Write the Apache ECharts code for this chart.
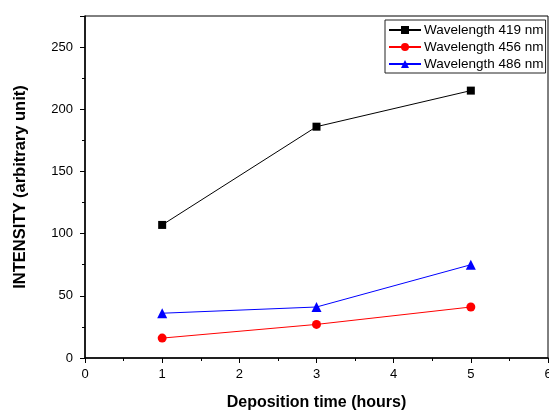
<!DOCTYPE html>
<html>
<head>
<meta charset="utf-8">
<script src="https://cdn.jsdelivr.net/npm/echarts@6/dist/echarts.min.js"></script>
<style>
  html, body { margin: 0; padding: 0; background: #fff; }
  #chart { width: 549px; height: 410px; }
</style>
</head>
<body>
<div id="chart"></div>
<script>
// Deposition time (hours) and measured intensities per wavelength
const depositionHours = [1, 3, 5];
const intensity419 = [107, 186, 215];
const intensity456 = [16, 27, 41];
const intensity486 = [36, 41, 75];
const seriesNames = ['Wavelength 419 nm', 'Wavelength 456 nm', 'Wavelength 486 nm'];

const pairs = (ys) => depositionHours.map((x, i) => [x, ys[i]]);
const font = 'Liberation Sans, Arial, sans-serif';

const chart = echarts.init(document.getElementById('chart'), null, { renderer: 'canvas' });

function lineSeries(name, ys, color, symbol, size) {
  return {
    name: name,
    type: 'line',
    data: pairs(ys),
    symbol: symbol,
    symbolSize: size,
    lineStyle: { color: color, width: 1 },
    itemStyle: { color: color },
    emphasis: { disabled: true },
    animation: false
  };
}

chart.setOption({
  animation: false,
  grid: {
    left: 85, right: 1, top: 16, bottom: 52,
    outerBoundsMode: 'none',
    containLabel: false,
    show: true, borderColor: '#000', borderWidth: 1
  },
  legend: {
    orient: 'vertical',
    left: 385, top: 20,
    padding: [3, 2, 2, 3],
    itemGap: 3,
    itemWidth: 32,
    itemHeight: 10,
    borderColor: '#222',
    borderWidth: 1,
    backgroundColor: '#fff',
    textStyle: { fontFamily: font, fontSize: 13.5, color: '#000', padding: [0, 0, 0, -2] },
    data: seriesNames
  },
  xAxis: {
    type: 'value',
    min: 0, max: 6, interval: 1,
    name: 'Deposition time (hours)',
    nameLocation: 'middle',
    nameGap: 37,
    nameTextStyle: { fontFamily: font, fontSize: 16, fontWeight: 'bold', color: '#000' },
    axisLine: { onZero: false, lineStyle: { color: '#000', width: 1.5 } },
    axisTick: { inside: false, length: 5, lineStyle: { color: '#000' } },
    minorTick: { show: true, splitNumber: 2, length: 3, lineStyle: { color: '#000' } },
    splitLine: { show: false },
    axisLabel: { fontFamily: font, fontSize: 13, color: '#000', margin: 10 }
  },
  yAxis: {
    type: 'value',
    min: 0, max: 275, interval: 50,
    name: 'INTENSITY (arbitrary unit)',
    nameLocation: 'middle',
    nameGap: 56,
    nameTextStyle: { fontFamily: font, fontSize: 16.5, fontWeight: 'bold', color: '#000' },
    axisLine: { onZero: false, lineStyle: { color: '#000', width: 1.5 } },
    axisTick: { inside: false, length: 5, lineStyle: { color: '#000' } },
    minorTick: { show: true, splitNumber: 2, length: 3, lineStyle: { color: '#000' } },
    splitLine: { show: false },
    axisLabel: {
      fontFamily: font, fontSize: 13, color: '#000', margin: 12,
      showMaxLabel: false,
      formatter: (v) => (v % 50 === 0 ? String(v) : '')
    }
  },
  series: [
    lineSeries(seriesNames[0], intensity419, '#000000', 'rect', 8),
    lineSeries(seriesNames[1], intensity456, '#ff0000', 'circle', 9),
    lineSeries(seriesNames[2], intensity486, '#0000ff', 'triangle', 10)
  ]
});
</script>
</body>
</html>
